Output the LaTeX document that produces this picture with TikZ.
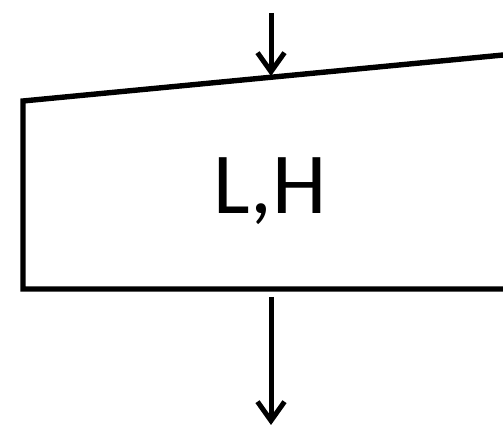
\documentclass[tikz,border=0pt]{standalone}
\usepackage{fontspec}
\setmainfont{Carlito}
\usetikzlibrary{arrows.meta}
\begin{document}
\begin{tikzpicture}[x=1pt,y=1pt,
  shapeline/.style={line width=5.4pt, line join=miter},
  flow/.style={line width=5pt, -{Straight Barb[length=19pt,width=27pt,line width=5pt]}}]
\useasboundingbox (0,0) rectangle (503,430);
\clip (0,0) rectangle (503,430);
\coordinate (tl) at (23,329);
\coordinate (tr) at (520,376.6);
\coordinate (br) at (520,141);
\coordinate (bl) at (23,141);
\draw[shapeline] (br) -- (bl) -- (tl) -- (tr);
\coordinate (inTop) at (271,417);
\coordinate (inEnd) at (271,354);
\coordinate (outStart) at (271,133);
\coordinate (outEnd) at (271,5);
\draw[flow] (inTop) -- (inEnd);
\draw[flow] (outStart) -- (outEnd);
\node[anchor=base, inner sep=0pt, font=\fontsize{87}{87}\selectfont] (lbl) at (270,216) {L,H};
\end{tikzpicture}
\end{document}
